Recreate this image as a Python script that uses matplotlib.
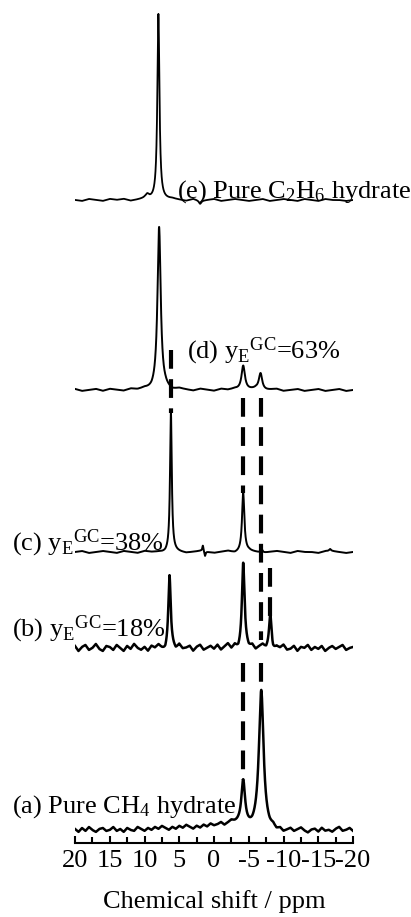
from __future__ import annotations

import matplotlib

matplotlib.use("Agg")
import matplotlib.pyplot as plt
import numpy as np


# chemical shift axis (ppm), spectra are drawn left = 20, right = -20
PPM_LEFT = 20.0
PPM_RIGHT = -20.0
TICKS = [20, 15, 10, 5, 0, -5, -10, -15, -20]

# stacking offsets of the five traces, bottom (a) to top (e)
OFFSETS = [13, 195, 291, 453, 643]

LABELS = [
    "(a) Pure CH$_4$ hydrate",
    r"(b) $\mathrm{y_E}{}^{\mathrm{GC}}$=18%",
    r"(c) $\mathrm{y_E}{}^{\mathrm{GC}}$=38%",
    r"(d) $\mathrm{y_E}{}^{\mathrm{GC}}$=63%",
    "(e) Pure C$_2$H$_6$ hydrate",
]

# peaks: centre (ppm), height, half width (ppm)
A_PEAK_PPM = [-4.2, -6.8]
A_PEAK_HEIGHT = [45, 138]
A_PEAK_HWHM = [0.32, 0.4]

B_PEAK_PPM = [6.4, -4.2, -8.1]
B_PEAK_HEIGHT = [71, 84, 33]
B_PEAK_HWHM = [0.2, 0.22, 0.2]

C_PEAK_PPM = [6.2, -4.2, 1.6, 1.3, -6.9, -16.7]
C_PEAK_HEIGHT = [139, 59, 6, -5, 3, 2]
C_PEAK_HWHM = [0.15, 0.2, 0.1, 0.1, 0.15, 0.15]

D_PEAK_PPM = [7.9, -4.2, -6.7]
D_PEAK_HEIGHT = [163, 25, 17]
D_PEAK_HWHM = [0.28, 0.3, 0.3]

E_PEAK_PPM = [8.0, 9.6, 2.0]
E_PEAK_HEIGHT = [187, 4, -3]
E_PEAK_HWHM = [0.18, 0.3, 0.2]

# baseline noise, evenly spaced from 20 to -20 ppm
A_NOISE = [
    1, -2, 2, -1, 3, 0, -2, 1, 2, -1, 0, 3, -1, 1, -2, 2, 0, -1, 3, 1, -1,
    2, 0, 3, 1, 4, 2, 0, 3, 1, 4, 2, 5, 3, 1, 4, 2, 5, 3, 6, 4,
    5, 7, 4, 6, 8, 6, 5, 3, 2, 1, 0, 1, 2, 1,
    0, -1, 1, -2, 0, -3, -1, 1, -2, 0, 2, -1, -3, 0, 1, -2, 2, -1, 0, -2, 1, 3, -1, 0, 2, -1,
]
B_NOISE = [
    2, -3, 1, 3, -2, 0, 4, -1, -3, 2, 1, -2, 3, 0, -3, 2, -1, 4, 0, -2, 1,
    -3, 2, 0, 3, -1, -4, 2, 1, -2, 3, -1, 0, 2, -3, 1, 3, -2, 0, 2, -1,
    3, -2, 1, 4, -1, 2, -3, 0, 3, -1, 2, -2, 1, 3,
    -1, 2, -3, 1, 0, 3, -2, -1, 2, -3, 1, 0, 3, -2, 1, -1, 2, -3, 0, 2, -1, 1, 3, -2, 0, 1,
]
C_NOISE = [
    0, 1, -1, 0, 1, 0, -1, 1, 0, -1, 1, 0, 0, -1, 1, 0, -1, 0, 1, 0, -1,
    0, 1, -1, 0, 1, 0, -1, 0, 1, 0, -1, 1, 0, 0, -1, 1, 1, 0, -1, 0,
]
D_NOISE = [
    1, -1, 0, 1, -1, 1, 0, -1, 1, 0, 1, -1, 0, 1, -1, 1, 0, -1, 1, 0, -1,
    1, 0, 1, -1, 0, 1, -1, 0, 1, -1, 0, 1, -1, 0, 1, -1, 0, 1, -1, 0,
]
E_NOISE = [
    0, -1, 1, 0, -1, 1, 0, 1, -1, 0, 1, 0, -1, 0, 1, 0, -1, 1, -1, 0, 1,
    -1, 0, 1, 0, -1, 0, 1, -1, 0, 1, 0, -1, 1, 0, -1, 1, 0, 0, -1, 0,
]

# dashed guide lines: ppm, upper end, lower end
GUIDE_PPM = [6.2, -4.2, -6.8, -8.1, -4.2, -6.8]
GUIDE_TOP = [493, 445, 445, 275, 180, 180]
GUIDE_BOTTOM = [430, 350, 203, 226, 63, 157]


def lorentzian(x: np.ndarray, centre: float, height: float, hwhm: float) -> np.ndarray:
    return height / (1.0 + ((x - centre) / hwhm) ** 2)


def trace(x: np.ndarray, ppm: list, height: list, hwhm: list, noise: list) -> np.ndarray:
    noise_x = np.linspace(PPM_RIGHT, PPM_LEFT, len(noise))
    y = np.interp(x, noise_x, np.asarray(noise[::-1], dtype=float))
    for centre, h, w in zip(ppm, height, hwhm, strict=True):
        y = y + lorentzian(x, centre, h, w)
    return y


def main() -> None:
    plt.rcParams["font.family"] = ["Liberation Serif", "DejaVu Serif"]
    plt.rcParams["mathtext.fontset"] = "custom"
    plt.rcParams["mathtext.rm"] = "Liberation Serif"
    plt.rcParams["mathtext.it"] = "Liberation Serif:italic"
    plt.rcParams["axes.unicode_minus"] = False

    fig = plt.figure(figsize=(4.11, 9.17), dpi=100)
    ax = fig.add_axes([75 / 411, 74 / 917, 278 / 411, 838 / 917])

    x = np.linspace(PPM_LEFT, PPM_RIGHT, 4001)
    spectra = [
        (A_PEAK_PPM, A_PEAK_HEIGHT, A_PEAK_HWHM, A_NOISE),
        (B_PEAK_PPM, B_PEAK_HEIGHT, B_PEAK_HWHM, B_NOISE),
        (C_PEAK_PPM, C_PEAK_HEIGHT, C_PEAK_HWHM, C_NOISE),
        (D_PEAK_PPM, D_PEAK_HEIGHT, D_PEAK_HWHM, D_NOISE),
        (E_PEAK_PPM, E_PEAK_HEIGHT, E_PEAK_HWHM, E_NOISE),
    ]
    line_widths = [1.8, 1.8, 1.4, 1.4, 1.3]
    for (ppm, height, hwhm, noise), offset, lw in zip(spectra, OFFSETS, line_widths):
        ax.plot(x, trace(x, ppm, height, hwhm, noise) + offset, color="black", lw=lw)

    for ppm, top, bottom in zip(GUIDE_PPM, GUIDE_TOP, GUIDE_BOTTOM, strict=True):
        ax.plot([ppm, ppm], [top, bottom], color="black", lw=3.0,
                linestyle=(0, (4.5, 2.5)), solid_capstyle="butt", dash_capstyle="butt")

    label_ppm = [29.1, 29.1, 29.1, 3.9, 5.3]
    label_y = [30, 207, 293, 485, 645]
    for text, lx, ly in zip(LABELS, label_ppm, label_y):
        ax.text(lx, ly, text, fontsize=19, ha="left", va="baseline", clip_on=False)

    ax.set_xlim(PPM_LEFT, PPM_RIGHT)
    ax.set_ylim(0, 838)
    ax.set_xticks(TICKS)
    ax.set_xticklabels([str(t) for t in TICKS])
    ax.set_xticks(np.arange(-17.5, 20, 5), minor=True)
    ax.set_yticks([])
    for side in ["top", "left", "right"]:
        ax.spines[side].set_visible(False)
    ax.spines["bottom"].set_linewidth(1.5)
    ax.tick_params(axis="x", which="major", direction="in", length=5, width=1.5,
                   labelsize=19, pad=5)
    ax.tick_params(axis="x", which="minor", direction="in", length=4, width=1.5)
    ax.set_xlabel("Chemical shift / ppm", fontsize=19, labelpad=13)
    ax.patch.set_alpha(0)

    fig.savefig("out.png", dpi=100)
    plt.close(fig)


if __name__ == "__main__":
    main()
